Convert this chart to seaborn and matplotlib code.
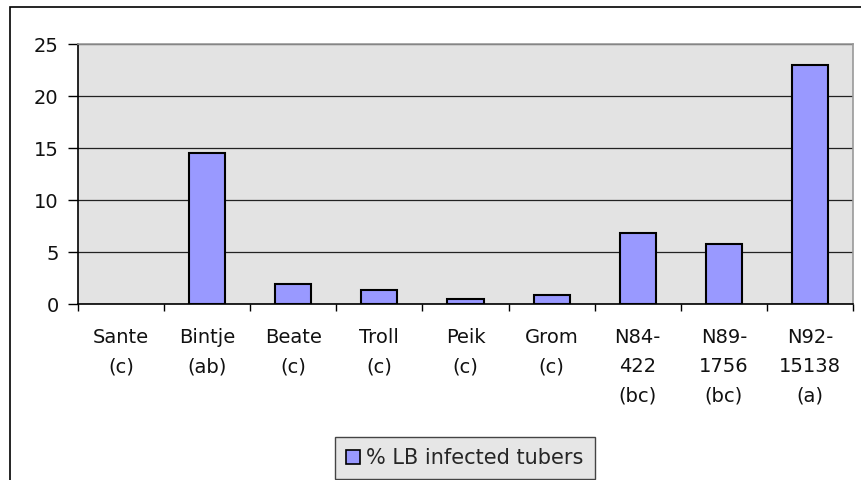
import matplotlib
matplotlib.use("Agg")
import matplotlib.pyplot as plt
import seaborn as sns
import pandas as pd
from matplotlib.patches import Rectangle, Patch

categories = ["Sante\n(c)", "Bintje\n(ab)", "Beate\n(c)", "Troll\n(c)", "Peik\n(c)",
              "Grom\n(c)", "N84-\n422\n(bc)", "N89-\n1756\n(bc)", "N92-\n15138\n(a)"]
values = [0.0, 14.5, 1.9, 1.35, 0.5, 0.85, 6.8, 5.8, 23.0]
series_name = "% LB infected tubers"
yticks = [0, 5, 10, 15, 20, 25]

sns.set_theme(style="white")
plt.rcParams['font.family'] = ['DejaVu Sans']

FS = 14

df = pd.DataFrame({"cat": categories, "val": values})

fig = plt.figure(figsize=(8.61, 4.8), dpi=100)
ax = fig.add_axes([78/861, 1-304/480, (853-78)/861, (304-44)/480])

sns.barplot(data=df, x="cat", y="val", ax=ax, color="#9999ff", saturation=1,
            width=0.42, edgecolor="black", linewidth=1.5, zorder=3)
for p in ax.patches:
    if p.get_height() == 0:
        p.set_visible(False)

ax.set_facecolor("#e3e3e3")
ax.set_ylim(0, 25)
ax.set_xlim(-0.5, len(categories) - 0.5)
ax.set_yticks(yticks)
ax.set_yticklabels([str(t) for t in yticks], fontsize=FS, color="#111111")
ax.yaxis.grid(True, color="#222222", linewidth=0.9, zorder=1)
ax.set_axisbelow(True)
ax.set_xlabel("")
ax.set_ylabel("")

# major ticks at boundaries, labels at centers
ax.set_xticks([i + 0.5 for i in range(-1, len(categories))], minor=False)
ax.set_xticklabels([])
ax.set_xticks(range(len(categories)), minor=True)
ax.set_xticklabels(categories, minor=True, fontsize=FS, linespacing=1.7, va="top", color="#111111")
ax.tick_params(axis="x", which="major", direction="out", length=5, width=1, color="black", bottom=True)
ax.tick_params(axis="x", which="minor", length=0, pad=17)
ax.tick_params(axis="y", direction="out", length=7, width=1, color="black", left=True, pad=7)

for s in ["left", "bottom"]:
    ax.spines[s].set_color("black")
    ax.spines[s].set_linewidth(1.2)
for s in ["top", "right"]:
    ax.spines[s].set_color("#999999")
    ax.spines[s].set_linewidth(1.2)

# outer chart border
fig.patches.append(Rectangle((10/861, -0.05), 1.0, (480-7)/480 + 0.05, transform=fig.transFigure,
                             fill=False, edgecolor="black", linewidth=1.2))

handle = Patch(facecolor="#9999ff", edgecolor="black", linewidth=1.2)
leg = fig.legend([handle], [series_name], loc="center", bbox_to_anchor=(465/861, 1-458/480),
                 fontsize=15, frameon=True, fancybox=False, handlelength=0.65, handleheight=0.65,
                 handletextpad=0.3, borderpad=0.55, borderaxespad=0)
leg.get_frame().set_facecolor("#e6e6e6")
leg.get_frame().set_edgecolor("#444444")
leg.get_frame().set_linewidth(1.0)
leg.get_frame().set_alpha(1)

fig.savefig("out.png", dpi=100)
